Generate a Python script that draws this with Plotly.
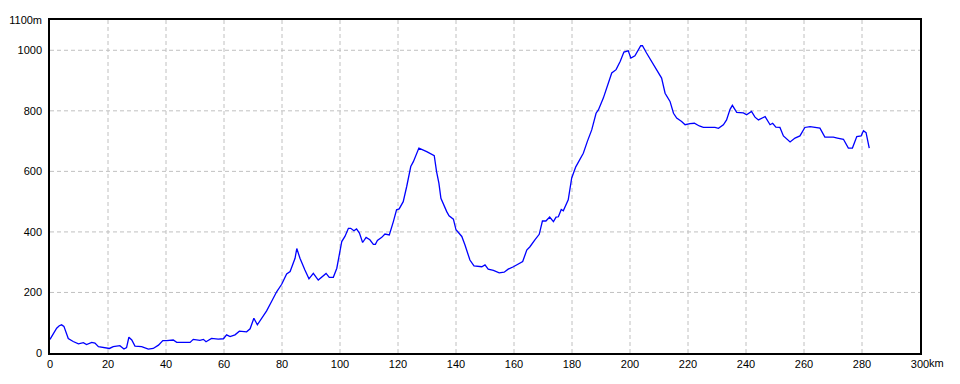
import plotly.graph_objects as go

distance_km = [0, 2.3, 3.2, 4.0, 4.8, 6.3, 8, 9.8, 11.5, 12.6, 14.4, 15.5, 16.7, 19, 20.5, 21.8, 24.1, 25.5, 26.4, 27.2,
               28.2, 29.3, 31.6, 33.9, 35.6, 37.4, 38.9, 40.2, 42.5, 43.7, 48.3, 49.4, 51.7, 52.9, 53.8, 55.7, 58, 59.8,
               60.9, 62.1, 63.8, 65.3, 67.8, 69, 70.3, 71.5, 73.4, 74.7, 76.4, 78.2, 79.9, 81.6, 82.8, 84.5, 85.1, 86.2,
               87.9, 89.3, 90.8, 92.5, 95.2, 96.3, 97.7, 98.9, 100.6, 101.7, 102.9, 103.7, 104.8, 105.7, 106.7, 107.8,
               109, 110.3, 111.5, 112.2, 112.9, 114.4, 115.5, 117, 118.4, 119.5, 120.4, 121.8, 123, 124.4, 125.3, 127.2,
               129.9, 132.5, 133.3, 134.1, 134.8, 135.9, 136.8, 137.6, 139.1, 140, 142, 143.1, 144.8, 146.2, 148.9, 150,
               151.1, 152.9, 154.9, 156.6, 158, 159.8, 161.3, 163, 164.4, 165.5, 167.2, 168.7, 169.8, 171, 172.3, 173.6,
               174.5, 175.3, 176.3, 177, 178.7, 179.9, 181.3, 182.5, 183.9, 185.3, 186.8, 188.3, 189.1, 190.8, 192.5,
               193.7, 195.2, 196.6, 197.9, 199.4, 200.3, 201.7, 203.7, 204.3, 205.7, 207.8, 209.8, 210.9, 212.1, 213.8,
               215, 216.1, 217.8, 219, 220.7, 222.2, 223.9, 225.3, 229.3, 230.5, 232.2, 233.3, 234.5, 235.3, 236.8,
               239.1, 240.2, 241.9, 243.1, 244.3, 246.6, 248.3, 249.2, 250.3, 251.7, 252.9, 255.2, 256.9, 258.6, 260.3,
               262.1, 265.5, 267.2, 270.1, 271.5, 273.6, 275.3, 276.7, 278.2, 279.7, 280.5, 281.4, 282.5]

elevation_m = [45, 82, 90, 93, 88, 48, 38, 30, 34, 28, 35, 33, 21, 18, 15, 21, 24, 13, 18, 52,
               43, 23, 21, 13, 15, 26, 41, 41, 43, 35, 35, 45, 42, 45, 37, 48, 46, 47,
               60, 54, 60, 72, 70, 80, 115, 93, 120, 139, 170, 203, 227, 261, 269, 313, 345, 313,
               274, 245, 263, 241, 263, 250, 250, 280, 368, 385, 412, 412, 404, 410, 396, 365,
               382, 374, 359, 359, 372, 382, 393, 390, 434, 473, 476, 500, 550, 616, 632, 677,
               665, 652, 599, 561, 511, 484, 467, 453, 442, 407, 385, 357, 307, 288, 285, 291,
               277, 273, 265, 267, 277, 285, 294, 302, 340, 351, 374, 392, 436, 436, 449, 434,
               449, 450, 474, 470, 506, 578, 615, 636, 660, 699, 737, 792, 803, 842, 892,
               925, 936, 963, 994, 998, 974, 982, 1015, 1015, 991, 958, 930, 908, 858, 831,
               792, 776, 765, 754, 758, 759, 750, 745, 745, 742, 754, 770, 805, 818, 795,
               793, 787, 798, 779, 770, 781, 754, 759, 746, 745, 717, 697, 710, 717, 745,
               748, 743, 713, 713, 710, 706, 677, 677, 715, 717, 734, 728, 677]

x_tick_vals = list(range(0, 301, 20))
x_tick_text = [str(v) for v in x_tick_vals]
y_tick_vals = [0, 200, 400, 600, 800, 1000, 1100]
y_tick_text = ["0", "200", "400", "600", "800", "1000", "1100m"]
x_unit = "km"

FONT = "Liberation Sans"

fig = go.Figure()
fig.add_trace(go.Scatter(x=distance_km, y=elevation_m, mode="lines",
                         line=dict(color="#0000FF", width=1.3), hoverinfo="skip"))

# grid lines (dashed), drawn as shapes inside the plot box
for v in range(20, 300, 20):
    fig.add_shape(type="line", xref="x", yref="paper", x0=v, x1=v, y0=0, y1=1,
                  line=dict(color="#C0C0C0", width=1, dash="4px,3px"), layer="below")
for v in range(200, 1100, 200):
    fig.add_shape(type="line", xref="paper", yref="y", x0=0, x1=1, y0=v, y1=v,
                  line=dict(color="#C0C0C0", width=1, dash="4px,3px"), layer="below")

fig.add_annotation(x=300, y=0, xref="x", yref="paper", text=x_unit, showarrow=False,
                   xanchor="left", yanchor="middle", xshift=7, yshift=-10,
                   font=dict(family=FONT, size=11, color="black"))

fig.update_layout(
    width=960, height=384,
    margin=dict(l=50, r=40, t=20, b=31, autoexpand=False),
    paper_bgcolor="white", plot_bgcolor="white",
    showlegend=False,
    font=dict(family=FONT, size=11, color="black"),
    xaxis=dict(range=[0, 300], tickvals=x_tick_vals, ticktext=x_tick_text,
               showgrid=False, zeroline=False, showline=True, linecolor="black",
               linewidth=1.5, mirror=True, ticks="", ticklabelstandoff=0,
               automargin=False, fixedrange=True),
    yaxis=dict(range=[0, 1100], tickvals=y_tick_vals, ticktext=y_tick_text,
               showgrid=False, zeroline=False, showline=True, linecolor="black",
               linewidth=1.5, mirror=True, ticks="", ticklabelstandoff=4,
               automargin=False, fixedrange=True),
)

fig.write_html("out.html")
